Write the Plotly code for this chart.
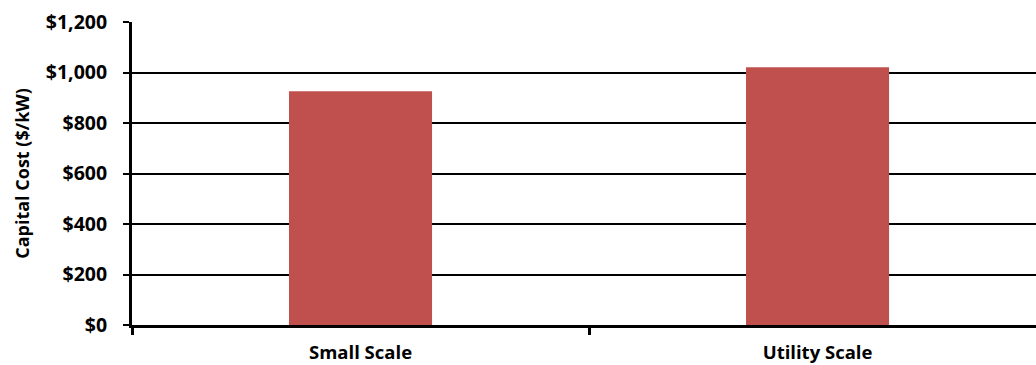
import plotly.graph_objects as go

# Capital cost by project scale
categories = ["Small Scale", "Utility Scale"]
capital_cost = [926, 1021]
y_ticks = [0, 200, 400, 600, 800, 1000, 1200]
y_tick_labels = ["$0", "$200", "$400", "$600", "$800", "$1,000", "$1,200"]

font_family = "Open Sans"

fig = go.Figure(
    go.Bar(
        x=categories,
        y=capital_cost,
        marker=dict(color="#C0504D", line=dict(width=0)),
        width=0.313,
    )
)

fig.update_layout(
    width=1036,
    height=365,
    margin=dict(l=132, r=0, t=22, b=40),
    paper_bgcolor="white",
    plot_bgcolor="white",
    showlegend=False,
    font=dict(family=font_family, color="black"),
)

fig.update_xaxes(
    type="category",
    range=[-0.5, 1.478],
    tickson="boundaries",
    ticks="outside",
    ticklen=7,
    tickwidth=3,
    tickcolor="black",
    ticklabelstandoff=9,
    showline=True,
    linewidth=3,
    linecolor="black",
    showgrid=False,
    tickfont=dict(family=font_family, size=18.5, color="black", weight="bold"),
)

fig.update_yaxes(
    range=[0, 1200],
    tickvals=y_ticks,
    ticktext=y_tick_labels,
    ticks="outside",
    ticklen=6,
    tickwidth=2,
    tickcolor="black",
    ticklabelstandoff=12,
    showline=True,
    linewidth=3,
    linecolor="black",
    showgrid=True,
    gridcolor="black",
    gridwidth=1.5,
    zeroline=False,
    tickfont=dict(family=font_family, size=19.5, color="black", weight="bold"),
    title=dict(
        text="Capital Cost ($/kW)",
        font=dict(family=font_family, size=18, color="black", weight="bold"),
        standoff=12,
    ),
)

fig.write_html("out.html")
